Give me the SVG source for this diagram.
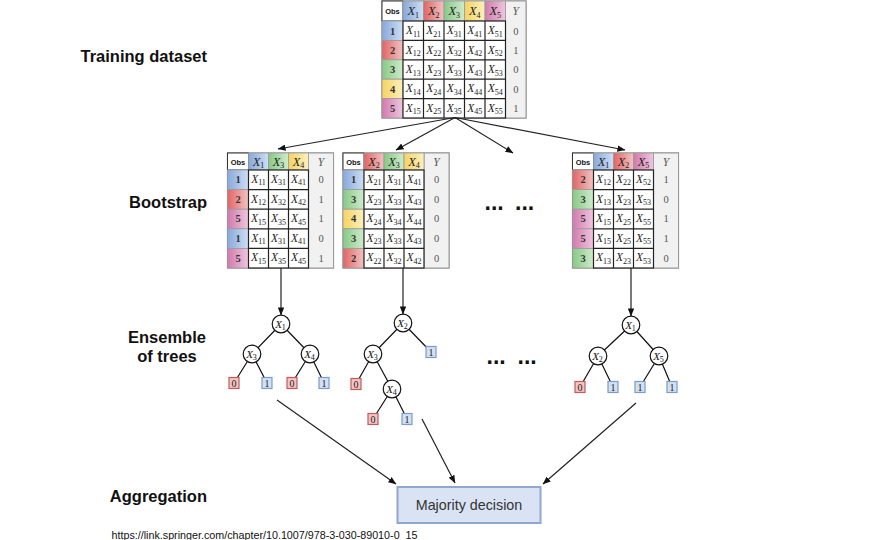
<svg xmlns="http://www.w3.org/2000/svg" width="876" height="540" viewBox="0 0 876 540">
<defs>
<linearGradient id="gB" x1="0" y1="0" x2="1" y2="0"><stop offset="0" stop-color="#86a9dc"/><stop offset="1" stop-color="#cfdef3"/></linearGradient>
<linearGradient id="gR" x1="0" y1="0" x2="1" y2="0"><stop offset="0" stop-color="#e06565"/><stop offset="1" stop-color="#f5c2c2"/></linearGradient>
<linearGradient id="gG" x1="0" y1="0" x2="1" y2="0"><stop offset="0" stop-color="#86c986"/><stop offset="1" stop-color="#d0ebcb"/></linearGradient>
<linearGradient id="gY" x1="0" y1="0" x2="1" y2="0"><stop offset="0" stop-color="#f5d262"/><stop offset="1" stop-color="#fcf0bc"/></linearGradient>
<linearGradient id="gP" x1="0" y1="0" x2="1" y2="0"><stop offset="0" stop-color="#d07aad"/><stop offset="1" stop-color="#f0c6de"/></linearGradient>
<marker id="ah" viewBox="0 0 10 8" refX="9.5" refY="4" markerWidth="8" markerHeight="6.4" markerUnits="userSpaceOnUse" orient="auto"><path d="M0,0 L10,4 L0,8 z" fill="#111"/></marker>
<style>
.lbl{font-family:"Liberation Sans",Arial,sans-serif;font-weight:bold;font-size:16.5px;fill:#111}
.xv{font-family:"Liberation Serif","Times New Roman",serif;font-style:italic;font-size:11.5px;fill:#222;text-anchor:middle}
.hx{font-size:12.5px}
.s{font-style:normal;font-size:8px}
.num{font-family:"Liberation Serif","Times New Roman",serif;font-weight:bold;font-size:10.5px;fill:#333;text-anchor:middle}
.yv{font-family:"Liberation Serif","Times New Roman",serif;font-size:10.5px;fill:#555;text-anchor:middle}
.yh{font-family:"Liberation Serif","Times New Roman",serif;font-style:italic;font-size:11.5px;fill:#555;text-anchor:middle}
.obs{font-family:"Liberation Sans",Arial,sans-serif;font-weight:bold;font-size:7.5px;fill:#111;text-anchor:middle}
.frame{fill:#fff;stroke:#8a8a8a;stroke-width:1.2}
.oh{fill:#fff;stroke:#333;stroke-width:1}
.ycol{fill:#f1f1f1;stroke:#9a9a9a;stroke-width:1}
.hc{stroke:#9a9a9a;stroke-width:0.8}
.oc{stroke:#9a9a9a;stroke-width:0.8}
.data{fill:#fff;stroke:#222;stroke-width:1.2}
.grid{fill:none;stroke:#222;stroke-width:1.2}
.edge{stroke:#111;stroke-width:1.2}
.tn circle{fill:#fff;stroke:#111;stroke-width:1.2}
.tx{font-family:"Liberation Serif","Times New Roman",serif;font-style:italic;font-size:11px;fill:#111;text-anchor:middle}
.l0 rect{fill:#f2c4c4;stroke:#c65a5a;stroke-width:1.2}
.l1 rect{fill:#d2e0f3;stroke:#7b9ccb;stroke-width:1.2}
.lt{font-family:"Liberation Serif","Times New Roman",serif;font-size:10px;fill:#222;text-anchor:middle}
.arr{stroke:#222;stroke-width:1.2;fill:none;marker-end:url(#ah)}
.dots{font-family:"Liberation Sans",Arial,sans-serif;font-weight:bold;font-size:23px;fill:#111}
</style>
</defs>
<rect width="876" height="540" fill="#fff"/>

<!-- Left labels -->
<g id="labels">
<text class="lbl" x="207" y="62" text-anchor="end">Training dataset</text>
<text class="lbl" x="207" y="208" text-anchor="end">Bootstrap</text>
<text class="lbl" x="167" y="343" text-anchor="middle">Ensemble</text>
<text class="lbl" x="167" y="362" text-anchor="middle">of trees</text>
<text class="lbl" x="207" y="502" text-anchor="end">Aggregation</text>
</g>

<!-- Training dataset table -->
<g id="training-table">
<rect class="frame" x="382" y="1" width="144" height="117"/>
<rect class="ycol" x="505.5" y="1" width="20.5" height="117"/>
<rect class="oh" x="382" y="1" width="21" height="20"/>
<rect class="hc" x="403" y="1" width="20.5" height="20" fill="url(#gB)"/>
<rect class="hc" x="423.5" y="1" width="20.5" height="20" fill="url(#gR)"/>
<rect class="hc" x="444" y="1" width="20.5" height="20" fill="url(#gG)"/>
<rect class="hc" x="464.5" y="1" width="20.5" height="20" fill="url(#gY)"/>
<rect class="hc" x="485" y="1" width="20.5" height="20" fill="url(#gP)"/>
<rect class="oc" x="382" y="21" width="21" height="19.4" fill="url(#gB)"/>
<rect class="oc" x="382" y="40.4" width="21" height="19.4" fill="url(#gR)"/>
<rect class="oc" x="382" y="59.8" width="21" height="19.4" fill="url(#gG)"/>
<rect class="oc" x="382" y="79.2" width="21" height="19.4" fill="url(#gY)"/>
<rect class="oc" x="382" y="98.6" width="21" height="19.4" fill="url(#gP)"/>
<rect class="data" x="403" y="21" width="102.5" height="97"/>
<path class="grid" d="M423.5,21V118M444,21V118M464.5,21V118M485,21V118M403,40.4H505.5M403,59.8H505.5M403,79.2H505.5M403,98.6H505.5"/>
<text class="obs" x="392.5" y="14">Obs</text>
<text class="xv hx" x="413.25" y="15">X<tspan class="s" dy="2.5">1</tspan></text>
<text class="xv hx" x="433.75" y="15">X<tspan class="s" dy="2.5">2</tspan></text>
<text class="xv hx" x="454.25" y="15">X<tspan class="s" dy="2.5">3</tspan></text>
<text class="xv hx" x="474.75" y="15">X<tspan class="s" dy="2.5">4</tspan></text>
<text class="xv hx" x="495.25" y="15">X<tspan class="s" dy="2.5">5</tspan></text>
<text class="yh" x="515.75" y="15">Y</text>

<text class="num" x="392.5" y="34.5">1</text>
<text class="xv" x="413.25" y="34.2">X<tspan class="s" dy="2.5">11</tspan></text>
<text class="xv" x="433.75" y="34.2">X<tspan class="s" dy="2.5">21</tspan></text>
<text class="xv" x="454.25" y="34.2">X<tspan class="s" dy="2.5">31</tspan></text>
<text class="xv" x="474.75" y="34.2">X<tspan class="s" dy="2.5">41</tspan></text>
<text class="xv" x="495.25" y="34.2">X<tspan class="s" dy="2.5">51</tspan></text>
<text class="yv" x="515.75" y="34.5">0</text>

<text class="num" x="392.5" y="53.9">2</text>
<text class="xv" x="413.25" y="53.6">X<tspan class="s" dy="2.5">12</tspan></text>
<text class="xv" x="433.75" y="53.6">X<tspan class="s" dy="2.5">22</tspan></text>
<text class="xv" x="454.25" y="53.6">X<tspan class="s" dy="2.5">32</tspan></text>
<text class="xv" x="474.75" y="53.6">X<tspan class="s" dy="2.5">42</tspan></text>
<text class="xv" x="495.25" y="53.6">X<tspan class="s" dy="2.5">52</tspan></text>
<text class="yv" x="515.75" y="53.9">1</text>

<text class="num" x="392.5" y="73.3">3</text>
<text class="xv" x="413.25" y="73">X<tspan class="s" dy="2.5">13</tspan></text>
<text class="xv" x="433.75" y="73">X<tspan class="s" dy="2.5">23</tspan></text>
<text class="xv" x="454.25" y="73">X<tspan class="s" dy="2.5">33</tspan></text>
<text class="xv" x="474.75" y="73">X<tspan class="s" dy="2.5">43</tspan></text>
<text class="xv" x="495.25" y="73">X<tspan class="s" dy="2.5">53</tspan></text>
<text class="yv" x="515.75" y="73.3">0</text>

<text class="num" x="392.5" y="92.7">4</text>
<text class="xv" x="413.25" y="92.4">X<tspan class="s" dy="2.5">14</tspan></text>
<text class="xv" x="433.75" y="92.4">X<tspan class="s" dy="2.5">24</tspan></text>
<text class="xv" x="454.25" y="92.4">X<tspan class="s" dy="2.5">34</tspan></text>
<text class="xv" x="474.75" y="92.4">X<tspan class="s" dy="2.5">44</tspan></text>
<text class="xv" x="495.25" y="92.4">X<tspan class="s" dy="2.5">54</tspan></text>
<text class="yv" x="515.75" y="92.7">0</text>

<text class="num" x="392.5" y="112.1">5</text>
<text class="xv" x="413.25" y="111.8">X<tspan class="s" dy="2.5">15</tspan></text>
<text class="xv" x="433.75" y="111.8">X<tspan class="s" dy="2.5">25</tspan></text>
<text class="xv" x="454.25" y="111.8">X<tspan class="s" dy="2.5">35</tspan></text>
<text class="xv" x="474.75" y="111.8">X<tspan class="s" dy="2.5">45</tspan></text>
<text class="xv" x="495.25" y="111.8">X<tspan class="s" dy="2.5">55</tspan></text>
<text class="yv" x="515.75" y="112.1">1</text>
</g>

<!-- Bootstrap table 1 -->
<g id="bootstrap-1">
<rect class="frame" x="227.5" y="153" width="106" height="115"/>
<rect class="ycol" x="308.5" y="153" width="25" height="115"/>
<rect class="oh" x="227.5" y="153" width="21" height="17"/>
<rect class="hc" x="248.5" y="153" width="20" height="17" fill="url(#gB)"/>
<rect class="hc" x="268.5" y="153" width="20" height="17" fill="url(#gG)"/>
<rect class="hc" x="288.5" y="153" width="20" height="17" fill="url(#gY)"/>
<rect class="oc" x="227.5" y="170" width="21" height="19.6" fill="url(#gB)"/>
<rect class="oc" x="227.5" y="189.6" width="21" height="19.6" fill="url(#gR)"/>
<rect class="oc" x="227.5" y="209.2" width="21" height="19.6" fill="url(#gP)"/>
<rect class="oc" x="227.5" y="228.8" width="21" height="19.6" fill="url(#gB)"/>
<rect class="oc" x="227.5" y="248.4" width="21" height="19.6" fill="url(#gP)"/>
<rect class="data" x="248.5" y="170" width="60" height="98"/>
<path class="grid" d="M268.5,170V268M288.5,170V268M248.5,189.6H308.5M248.5,209.2H308.5M248.5,228.8H308.5M248.5,248.4H308.5"/>
<text class="obs" x="238" y="164.5">Obs</text>
<text class="xv hx" x="258.5" y="165.5">X<tspan class="s" dy="2.5">1</tspan></text>
<text class="xv hx" x="278.5" y="165.5">X<tspan class="s" dy="2.5">3</tspan></text>
<text class="xv hx" x="298.5" y="165.5">X<tspan class="s" dy="2.5">4</tspan></text>
<text class="yh" x="321" y="165.5">Y</text>

<text class="num" x="238" y="183.2">1</text>
<text class="xv" x="258.5" y="182.9">X<tspan class="s" dy="2.5">11</tspan></text>
<text class="xv" x="278.5" y="182.9">X<tspan class="s" dy="2.5">31</tspan></text>
<text class="xv" x="298.5" y="182.9">X<tspan class="s" dy="2.5">41</tspan></text>
<text class="yv" x="321" y="183.2">0</text>

<text class="num" x="238" y="202.8">2</text>
<text class="xv" x="258.5" y="202.5">X<tspan class="s" dy="2.5">12</tspan></text>
<text class="xv" x="278.5" y="202.5">X<tspan class="s" dy="2.5">32</tspan></text>
<text class="xv" x="298.5" y="202.5">X<tspan class="s" dy="2.5">42</tspan></text>
<text class="yv" x="321" y="202.8">1</text>

<text class="num" x="238" y="222.4">5</text>
<text class="xv" x="258.5" y="222.1">X<tspan class="s" dy="2.5">15</tspan></text>
<text class="xv" x="278.5" y="222.1">X<tspan class="s" dy="2.5">35</tspan></text>
<text class="xv" x="298.5" y="222.1">X<tspan class="s" dy="2.5">45</tspan></text>
<text class="yv" x="321" y="222.4">1</text>

<text class="num" x="238" y="242">1</text>
<text class="xv" x="258.5" y="241.7">X<tspan class="s" dy="2.5">11</tspan></text>
<text class="xv" x="278.5" y="241.7">X<tspan class="s" dy="2.5">31</tspan></text>
<text class="xv" x="298.5" y="241.7">X<tspan class="s" dy="2.5">41</tspan></text>
<text class="yv" x="321" y="242">0</text>

<text class="num" x="238" y="261.6">5</text>
<text class="xv" x="258.5" y="261.3">X<tspan class="s" dy="2.5">15</tspan></text>
<text class="xv" x="278.5" y="261.3">X<tspan class="s" dy="2.5">35</tspan></text>
<text class="xv" x="298.5" y="261.3">X<tspan class="s" dy="2.5">45</tspan></text>
<text class="yv" x="321" y="261.6">1</text>
</g>

<!-- Bootstrap table 2 -->
<g id="bootstrap-2">
<rect class="frame" x="343" y="153" width="106" height="115"/>
<rect class="ycol" x="424" y="153" width="25" height="115"/>
<rect class="oh" x="343" y="153" width="21" height="17"/>
<rect class="hc" x="364" y="153" width="20" height="17" fill="url(#gR)"/>
<rect class="hc" x="384" y="153" width="20" height="17" fill="url(#gG)"/>
<rect class="hc" x="404" y="153" width="20" height="17" fill="url(#gY)"/>
<rect class="oc" x="343" y="170" width="21" height="19.6" fill="url(#gB)"/>
<rect class="oc" x="343" y="189.6" width="21" height="19.6" fill="url(#gG)"/>
<rect class="oc" x="343" y="209.2" width="21" height="19.6" fill="url(#gY)"/>
<rect class="oc" x="343" y="228.8" width="21" height="19.6" fill="url(#gG)"/>
<rect class="oc" x="343" y="248.4" width="21" height="19.6" fill="url(#gR)"/>
<rect class="data" x="364" y="170" width="60" height="98"/>
<path class="grid" d="M384,170V268M404,170V268M364,189.6H424M364,209.2H424M364,228.8H424M364,248.4H424"/>
<text class="obs" x="353.5" y="164.5">Obs</text>
<text class="xv hx" x="374" y="165.5">X<tspan class="s" dy="2.5">2</tspan></text>
<text class="xv hx" x="394" y="165.5">X<tspan class="s" dy="2.5">3</tspan></text>
<text class="xv hx" x="414" y="165.5">X<tspan class="s" dy="2.5">4</tspan></text>
<text class="yh" x="436.5" y="165.5">Y</text>

<text class="num" x="353.5" y="183.2">1</text>
<text class="xv" x="374" y="182.9">X<tspan class="s" dy="2.5">21</tspan></text>
<text class="xv" x="394" y="182.9">X<tspan class="s" dy="2.5">31</tspan></text>
<text class="xv" x="414" y="182.9">X<tspan class="s" dy="2.5">41</tspan></text>
<text class="yv" x="436.5" y="183.2">0</text>

<text class="num" x="353.5" y="202.8">3</text>
<text class="xv" x="374" y="202.5">X<tspan class="s" dy="2.5">23</tspan></text>
<text class="xv" x="394" y="202.5">X<tspan class="s" dy="2.5">33</tspan></text>
<text class="xv" x="414" y="202.5">X<tspan class="s" dy="2.5">43</tspan></text>
<text class="yv" x="436.5" y="202.8">0</text>

<text class="num" x="353.5" y="222.4">4</text>
<text class="xv" x="374" y="222.1">X<tspan class="s" dy="2.5">24</tspan></text>
<text class="xv" x="394" y="222.1">X<tspan class="s" dy="2.5">34</tspan></text>
<text class="xv" x="414" y="222.1">X<tspan class="s" dy="2.5">44</tspan></text>
<text class="yv" x="436.5" y="222.4">0</text>

<text class="num" x="353.5" y="242">3</text>
<text class="xv" x="374" y="241.7">X<tspan class="s" dy="2.5">23</tspan></text>
<text class="xv" x="394" y="241.7">X<tspan class="s" dy="2.5">33</tspan></text>
<text class="xv" x="414" y="241.7">X<tspan class="s" dy="2.5">43</tspan></text>
<text class="yv" x="436.5" y="242">0</text>

<text class="num" x="353.5" y="261.6">2</text>
<text class="xv" x="374" y="261.3">X<tspan class="s" dy="2.5">22</tspan></text>
<text class="xv" x="394" y="261.3">X<tspan class="s" dy="2.5">32</tspan></text>
<text class="xv" x="414" y="261.3">X<tspan class="s" dy="2.5">42</tspan></text>
<text class="yv" x="436.5" y="261.6">0</text>
</g>

<!-- Bootstrap table 3 -->
<g id="bootstrap-3">
<rect class="frame" x="572.5" y="153" width="106" height="115"/>
<rect class="ycol" x="653.5" y="153" width="25" height="115"/>
<rect class="oh" x="572.5" y="153" width="21" height="17"/>
<rect class="hc" x="593.5" y="153" width="20" height="17" fill="url(#gB)"/>
<rect class="hc" x="613.5" y="153" width="20" height="17" fill="url(#gR)"/>
<rect class="hc" x="633.5" y="153" width="20" height="17" fill="url(#gP)"/>
<rect class="oc" x="572.5" y="170" width="21" height="19.6" fill="url(#gR)"/>
<rect class="oc" x="572.5" y="189.6" width="21" height="19.6" fill="url(#gG)"/>
<rect class="oc" x="572.5" y="209.2" width="21" height="19.6" fill="url(#gP)"/>
<rect class="oc" x="572.5" y="228.8" width="21" height="19.6" fill="url(#gP)"/>
<rect class="oc" x="572.5" y="248.4" width="21" height="19.6" fill="url(#gG)"/>
<rect class="data" x="593.5" y="170" width="60" height="98"/>
<path class="grid" d="M613.5,170V268M633.5,170V268M593.5,189.6H653.5M593.5,209.2H653.5M593.5,228.8H653.5M593.5,248.4H653.5"/>
<text class="obs" x="583" y="164.5">Obs</text>
<text class="xv hx" x="603.5" y="165.5">X<tspan class="s" dy="2.5">1</tspan></text>
<text class="xv hx" x="623.5" y="165.5">X<tspan class="s" dy="2.5">2</tspan></text>
<text class="xv hx" x="643.5" y="165.5">X<tspan class="s" dy="2.5">5</tspan></text>
<text class="yh" x="666" y="165.5">Y</text>

<text class="num" x="583" y="183.2">2</text>
<text class="xv" x="603.5" y="182.9">X<tspan class="s" dy="2.5">12</tspan></text>
<text class="xv" x="623.5" y="182.9">X<tspan class="s" dy="2.5">22</tspan></text>
<text class="xv" x="643.5" y="182.9">X<tspan class="s" dy="2.5">52</tspan></text>
<text class="yv" x="666" y="183.2">1</text>

<text class="num" x="583" y="202.8">3</text>
<text class="xv" x="603.5" y="202.5">X<tspan class="s" dy="2.5">13</tspan></text>
<text class="xv" x="623.5" y="202.5">X<tspan class="s" dy="2.5">23</tspan></text>
<text class="xv" x="643.5" y="202.5">X<tspan class="s" dy="2.5">53</tspan></text>
<text class="yv" x="666" y="202.8">0</text>

<text class="num" x="583" y="222.4">5</text>
<text class="xv" x="603.5" y="222.1">X<tspan class="s" dy="2.5">15</tspan></text>
<text class="xv" x="623.5" y="222.1">X<tspan class="s" dy="2.5">25</tspan></text>
<text class="xv" x="643.5" y="222.1">X<tspan class="s" dy="2.5">55</tspan></text>
<text class="yv" x="666" y="222.4">1</text>

<text class="num" x="583" y="242">5</text>
<text class="xv" x="603.5" y="241.7">X<tspan class="s" dy="2.5">15</tspan></text>
<text class="xv" x="623.5" y="241.7">X<tspan class="s" dy="2.5">25</tspan></text>
<text class="xv" x="643.5" y="241.7">X<tspan class="s" dy="2.5">55</tspan></text>
<text class="yv" x="666" y="242">1</text>

<text class="num" x="583" y="261.6">3</text>
<text class="xv" x="603.5" y="261.3">X<tspan class="s" dy="2.5">13</tspan></text>
<text class="xv" x="623.5" y="261.3">X<tspan class="s" dy="2.5">23</tspan></text>
<text class="xv" x="643.5" y="261.3">X<tspan class="s" dy="2.5">53</tspan></text>
<text class="yv" x="666" y="261.6">0</text>
</g>

<!-- Ellipses -->
<g id="ellipsis-bootstrap"><text class="dots" x="484.5" y="210">...</text><text class="dots" x="515" y="210">...</text></g>
<g id="ellipsis-trees"><text class="dots" x="486.5" y="364">...</text><text class="dots" x="517.5" y="364">...</text></g>

<!-- Connectors -->
<g id="connectors">
<line class="arr" x1="455" y1="117.5" x2="278" y2="149"/>
<line class="arr" x1="455" y1="117.5" x2="396" y2="150"/>
<line class="arr" x1="455" y1="117.5" x2="513" y2="153"/>
<line class="arr" x1="455" y1="117.5" x2="625" y2="150"/>
<line class="arr" x1="281" y1="268" x2="281" y2="315"/>
<line class="arr" x1="403" y1="268" x2="403" y2="314"/>
<line class="arr" x1="631" y1="268" x2="631" y2="316"/>
<line class="arr" x1="277" y1="400" x2="396" y2="484"/>
<line class="arr" x1="422" y1="419" x2="455" y2="483"/>
<line class="arr" x1="636" y1="403" x2="543" y2="484"/>
<!-- tree edges -->
<path class="edge" d="M281,324L252,354M281,324L310,354M252,354L234,383M252,354L267,383M310,354L292,383M310,354L324,383"/>
<path class="edge" d="M403,323L373,354M403,323L431,352M373,354L356,384M373,354L392,389M392,389L373,419M392,389L407,419"/>
<path class="edge" d="M631,325L598,356M631,325L659,356M598,356L580,387M598,356L613,387M659,356L640,387M659,356L672,387"/>
</g>

<!-- Tree 1 -->
<g id="t1-x1" class="tn"><circle cx="281" cy="324" r="8.8"/><text class="tx" x="280.5" y="327.5">X<tspan class="s" dy="2">1</tspan></text></g>
<g id="t1-x3" class="tn"><circle cx="252" cy="354" r="8.8"/><text class="tx" x="251.5" y="357.5">X<tspan class="s" dy="2">3</tspan></text></g>
<g id="t1-x4" class="tn"><circle cx="310" cy="354" r="8.8"/><text class="tx" x="309.5" y="357.5">X<tspan class="s" dy="2">4</tspan></text></g>
<g id="t1-l1" class="l0"><rect x="229" y="377.5" width="10" height="11"/><text class="lt" x="234" y="386.5">0</text></g>
<g id="t1-l2" class="l1"><rect x="262" y="377.5" width="10" height="11"/><text class="lt" x="267" y="386.5">1</text></g>
<g id="t1-l3" class="l0"><rect x="287" y="377.5" width="10" height="11"/><text class="lt" x="292" y="386.5">0</text></g>
<g id="t1-l4" class="l1"><rect x="319" y="377.5" width="10" height="11"/><text class="lt" x="324" y="386.5">1</text></g>

<!-- Tree 2 -->
<g id="t2-x2" class="tn"><circle cx="403" cy="323" r="8.8"/><text class="tx" x="402.5" y="326.5">X<tspan class="s" dy="2">2</tspan></text></g>
<g id="t2-x3" class="tn"><circle cx="373" cy="354" r="8.8"/><text class="tx" x="372.5" y="357.5">X<tspan class="s" dy="2">3</tspan></text></g>
<g id="t2-x4" class="tn"><circle cx="392" cy="389" r="8.8"/><text class="tx" x="391.5" y="392.5">X<tspan class="s" dy="2">4</tspan></text></g>
<g id="t2-l1" class="l1"><rect x="426" y="346.5" width="10" height="11"/><text class="lt" x="431" y="355.5">1</text></g>
<g id="t2-l2" class="l0"><rect x="351" y="378.5" width="10" height="11"/><text class="lt" x="356" y="387.5">0</text></g>
<g id="t2-l3" class="l0"><rect x="368" y="413.5" width="10" height="11"/><text class="lt" x="373" y="422.5">0</text></g>
<g id="t2-l4" class="l1"><rect x="402" y="413.5" width="10" height="11"/><text class="lt" x="407" y="422.5">1</text></g>

<!-- Tree 3 -->
<g id="t3-x1" class="tn"><circle cx="631" cy="325" r="8.8"/><text class="tx" x="630.5" y="328.5">X<tspan class="s" dy="2">1</tspan></text></g>
<g id="t3-x2" class="tn"><circle cx="598" cy="356" r="8.8"/><text class="tx" x="597.5" y="359.5">X<tspan class="s" dy="2">2</tspan></text></g>
<g id="t3-x5" class="tn"><circle cx="659" cy="356" r="8.8"/><text class="tx" x="658.5" y="359.5">X<tspan class="s" dy="2">5</tspan></text></g>
<g id="t3-l1" class="l0"><rect x="575" y="381.5" width="10" height="11"/><text class="lt" x="580" y="390.5">0</text></g>
<g id="t3-l2" class="l1"><rect x="608" y="381.5" width="10" height="11"/><text class="lt" x="613" y="390.5">1</text></g>
<g id="t3-l3" class="l1"><rect x="635" y="381.5" width="10" height="11"/><text class="lt" x="640" y="390.5">1</text></g>
<g id="t3-l4" class="l1"><rect x="667" y="381.5" width="10" height="11"/><text class="lt" x="672" y="390.5">1</text></g>

<!-- Majority decision -->
<g id="majority">
<rect x="397.5" y="487" width="143" height="36" fill="#dae3f3" stroke="#8ea8d0" stroke-width="2"/>
<text x="469" y="510" text-anchor="middle" font-family="'Liberation Sans',Arial,sans-serif" font-size="14.3" fill="#333">Majority decision</text>
</g>

<g id="source">
<text x="111.5" y="538.5" font-family="'Liberation Sans',Arial,sans-serif" font-size="10" fill="#111" textLength="306" lengthAdjust="spacingAndGlyphs">https://link.springer.com/chapter/10.1007/978-3-030-89010-0_15</text>
</g>
</svg>
